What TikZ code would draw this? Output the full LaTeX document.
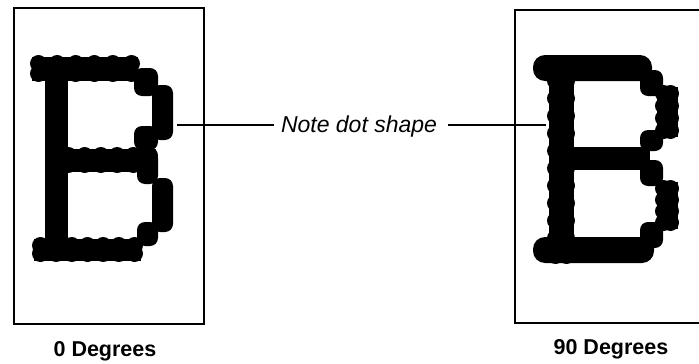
\documentclass[tikz,border=0pt]{standalone}
\usepackage{fontspec}
\setmainfont{Liberation Sans}
% horizontal dotted stroke: x1 x2 y1 y2 n
\newcommand\dotrowH[5]{%
  \fill (#1+2,#3+1.5) rectangle (#2-2,#4-1.5);
  \foreach \i in {0,...,#5} {%
    \pgfmathsetmacro\xx{#1+8.5+(#2-#1-17)*\i/#5}
    \fill (\xx,#3+8.5) circle (8.5);
    \fill (\xx,#4-8.5) circle (8.5);}}
% vertical dotted stroke: y1 y2 x1 x2 n
\newcommand\dotcolV[5]{%
  \fill (#3+1.5,#1+2) rectangle (#4-1.5,#2-2);
  \foreach \i in {0,...,#5} {%
    \pgfmathsetmacro\yy{#1+8.5+(#2-#1-17)*\i/#5}
    \fill (#3+8.5,\yy) circle (8.5);
    \fill (#4-8.5,\yy) circle (8.5);}}
\begin{document}
\begin{tikzpicture}[x=1pt,y=-1pt,
  frame/.style={draw=black,line width=1.3pt},
  lead/.style={draw=black,line width=1.4pt},
  blk/.style={fill=black,rounded corners=8pt},
  lbl/.style={font=\fontsize{21.5}{24}\selectfont\bfseries,anchor=base,inner sep=0pt}]
\useasboundingbox (0,0) rectangle (699,364);
\clip (0,0) rectangle (699,364);
% frames
\draw[frame] (14,8) rectangle (204,324);
\draw[frame] (515,10) rectangle (720,323);
% ---- left B (0 degrees) ----
\fill (45,60) rectangle (68,258);
\dotrowH{30}{140}{55}{82}{5}
\dotrowH{60}{158}{147}{173}{5}
\dotrowH{32}{143}{237}{262}{6}
\fill[blk] (134,68) rectangle (158,96);
\fill[blk] (152,85) rectangle (173,140);
\fill[blk] (134,126) rectangle (158,150);
\fill[blk] (137,150) rectangle (158,184);
\fill[blk] (152,178) rectangle (173,232);
\fill[blk] (137,222) rectangle (158,246);
% ---- right B (90 degrees) ----
\dotcolV{55}{264}{547}{575}{11}
\fill[rounded corners=12pt] (533,55) rectangle (652,81);
\fill[blk] (640,70) rectangle (663,96);
\dotcolV{85}{139}{655}{679}{3}
\fill[blk] (640,130) rectangle (663,151);
\fill (565,147) rectangle (650,170);
\fill[blk] (640,160) rectangle (663,186);
\dotcolV{180}{231}{655}{679}{3}
\fill[blk] (640,222) rectangle (663,248);
\fill[rounded corners=12pt] (533,237) rectangle (654,263);
% ---- labels ----
\node[lbl] (l0) at (105,356) {0 Degrees};
\node[lbl] (l90) at (611,354) {90 Degrees};
\node[font=\fontsize{23}{26}\selectfont\itshape,anchor=base,inner sep=0pt] (note) at (359,132) {Note dot shape};
\coordinate (lB) at (177,125);
\coordinate (rB) at (546,125);
\draw[lead,shorten >=7pt] (lB) -- (note.west |- lB);
\draw[lead,shorten <=11pt] (note.east |- rB) -- (rB);
\end{tikzpicture}
\end{document}
